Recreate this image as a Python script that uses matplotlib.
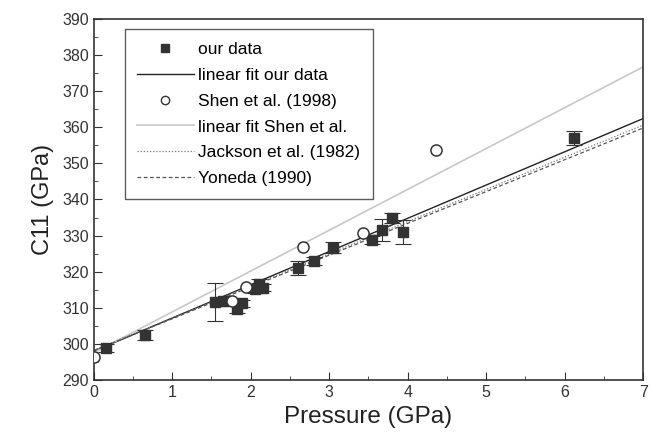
import matplotlib
matplotlib.use("Agg")
import matplotlib.pyplot as plt
import numpy as np
from matplotlib.ticker import MultipleLocator

plt.rcParams['font.family'] = ['Liberation Sans', 'DejaVu Sans']

# our data (pressure in GPa, C11 in GPa, error)
our_p = [0.15, 0.65, 1.55, 1.65, 1.82, 1.89, 2.05, 2.10, 2.16, 2.60, 2.81, 3.05, 3.55, 3.67, 3.80, 3.94, 6.12]
our_c = [298.9, 302.5, 311.6, 311.8, 309.7, 311.3, 315.2, 316.6, 315.6, 321.0, 323.0, 326.6, 328.8, 331.5, 334.9, 331.0, 357.0]
our_err = [1.0, 1.5, 5.3, 1.2, 1.0, 1.0, 1.0, 1.5, 1.0, 2.0, 1.0, 1.5, 1.0, 3.0, 1.5, 3.2, 2.0]

# Shen et al. (1998)
shen_p = [0.0, 1.76, 1.94, 2.67, 3.43, 4.36]
shen_c = [296.4, 311.9, 315.8, 326.8, 330.7, 353.6]

# fit lines: intercept, slope
fit_names = ["linear fit our data", "linear fit Shen et al.", "Jackson et al. (1982)", "Yoneda (1990)"]
fit_c0 = [298.0, 297.6, 298.3, 298.2]
fit_slope = [9.2, 11.3, 8.9, 8.8]

fig = plt.figure(figsize=(6.51, 4.37), dpi=100)
ax = fig.add_axes([0.144, 0.130, 0.844, 0.827])

p = np.array([0, 7])
styles = [dict(color="#222222", lw=1.0, ls="-"),
          dict(color="#c8c8c8", lw=1.2, ls="-"),
          dict(color="#777777", lw=0.9, ls=(0, (1, 1.5))),
          dict(color="#555555", lw=0.9, ls=(0, (3, 2)))]

ax.plot([], [], "s", color="#333333", ms=6, label="our data")
ax.plot(p, fit_c0[0] + fit_slope[0] * p, label=fit_names[0], **styles[0])
ax.plot([], [], "o", mfc="white", mec="#333333", ms=6, mew=1.0, label="Shen et al. (1998)")
for i in range(1, 4):
    ax.plot(p, fit_c0[i] + fit_slope[i] * p, label=fit_names[i], **styles[i])

ax.errorbar(our_p, our_c, yerr=our_err, fmt="s", color="#333333", ms=7,
            ecolor="#333333", elinewidth=0.8, capsize=6, capthick=0.8, zorder=4)
ax.plot(shen_p, shen_c, "o", mfc="white", mec="#333333", ms=8, mew=1.1, zorder=5)

ax.set_xlim(0, 7)
ax.set_ylim(290, 390)
ax.xaxis.set_major_locator(MultipleLocator(1))
ax.xaxis.set_minor_locator(MultipleLocator(0.5))
ax.yaxis.set_major_locator(MultipleLocator(10))
ax.yaxis.set_minor_locator(MultipleLocator(5))
ax.tick_params(which="both", direction="in", top=False, right=False,
               labelsize=11.5, labelcolor="#333333", color="#333333")
ax.tick_params(which="major", length=6)
ax.tick_params(which="minor", length=3)
for s in ax.spines.values():
    s.set_color("#333333")
    s.set_linewidth(1.2)

ax.set_xlabel("Pressure (GPa)", fontsize=17.5, color="#222222", labelpad=4)
ax.set_ylabel("C11 (GPa)", fontsize=17, color="#222222", labelpad=6)

leg = ax.legend(loc="upper left", bbox_to_anchor=(0.05, 0.98), fontsize=12.5,
                frameon=True, fancybox=False, edgecolor="#333333",
                handlelength=3.3, handletextpad=0.25, borderpad=0.7,
                labelspacing=0.62, borderaxespad=0.2)
leg.get_frame().set_linewidth(1.0)

fig.savefig("out.png", dpi=100)
